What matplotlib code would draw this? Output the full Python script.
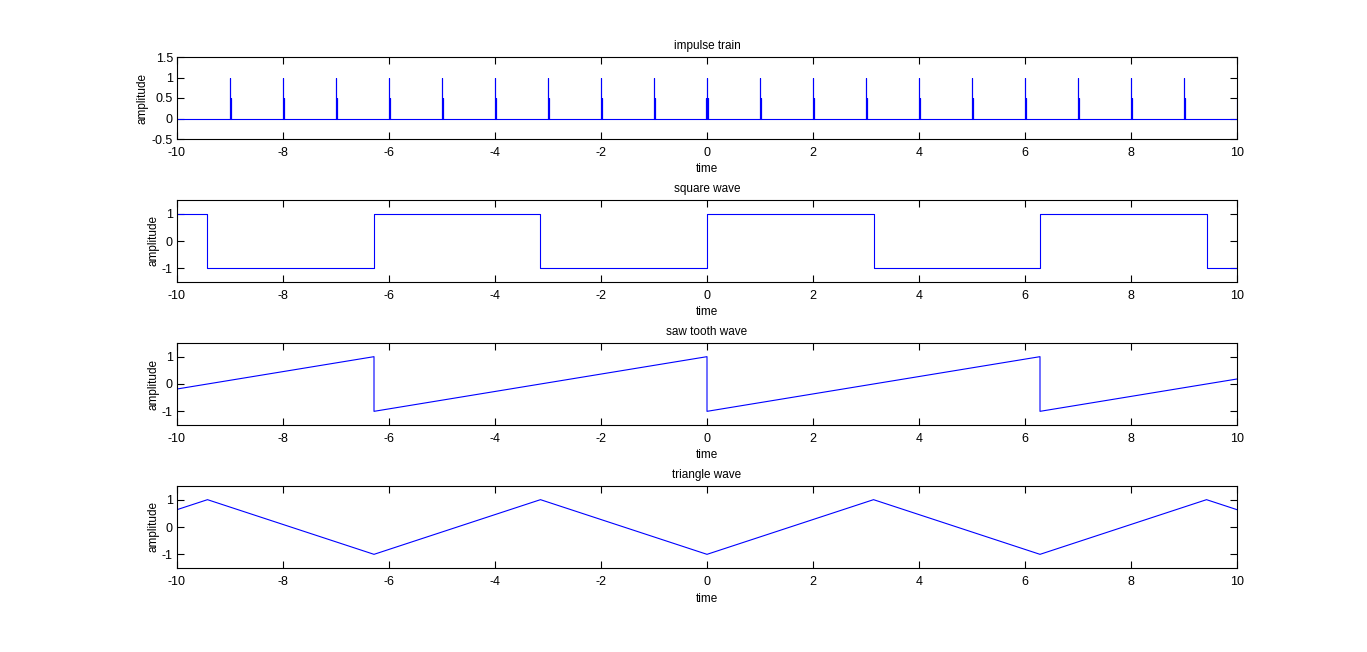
import matplotlib
matplotlib.use("Agg")
import matplotlib.pyplot as plt

plt.rcParams['font.family'] = ['Liberation Sans', 'DejaVu Sans']
plt.rcParams['font.size'] = 9

# ---- data ----
spike_times = [-9, -8, -7, -6, -5, -4, -3, -2, -1, 0, 1, 2, 3, 4, 5, 6, 7, 8, 9]
spike_peak = [1, 1, 1, 1, 1, 1, 1, 1, 1, 1, 1, 1, 1, 1, 1, 1, 1, 1, 1]
spike_side = [0.5, 0.5, 0.5, 0.5, 0.5, 0.5, 0.5, 0.5, 0.5, 0.5, 0.5, 0.5, 0.5, 0.5, 0.5, 0.5, 0.5, 0.5, 0.5]
end_time = 10
end_value = 0.5
start_time = -10

square_t = [-10, -9.425, -9.425, -6.283, -6.283, -3.142, -3.142, 0, 0, 3.142, 3.142, 6.283, 6.283, 9.425, 9.425, 10]
square_y = [1, 1, -1, -1, 1, 1, -1, -1, 1, 1, -1, -1, 1, 1, -1, -1]

saw_t = [-10, -6.283, -6.283, 0, 0, 6.283, 6.283, 10]
saw_y = [-0.183, 1, -1, 1, -1, 1, -1, 0.183]

tri_t = [-10, -9.425, -6.283, -3.142, 0, 3.142, 6.283, 9.425, 10]
tri_y = [0.634, 1, -1, 1, -1, 1, -1, 1, 0.634]

x_ticks = [-10, -8, -6, -4, -2, 0, 2, 4, 6, 8, 10]
imp_yticks = [-0.5, 0, 0.5, 1, 1.5]
wave_yticks = [-1, 0, 1]

# build impulse line (vertical strokes) from samples
dt = 0.018
imp_t = [start_time]
imp_y = [0]
for k, p, s in zip(spike_times, spike_peak, spike_side):
    if k == 0:
        imp_t += [k - dt, k - dt, k - dt, k, k, k, k + dt, k + dt, k + dt]
        imp_y += [0, s, 0, 0, p, 0, 0, s, 0]
    else:
        imp_t += [k, k, k, k + dt, k + dt, k + dt]
        imp_y += [0, p, 0, 0, s, 0]
imp_t += [end_time, end_time]
imp_y += [0, end_value]

W, H = 1367, 652
fig = plt.figure(figsize=(W / 100, H / 100), dpi=100)
fig.patch.set_facecolor('white')

left, right = 177, 1237
tops = [57, 200, 343, 486]
height = 82

titles = ['impulse train', 'square wave', 'saw tooth wave', 'triangle wave']
series = [(imp_t, imp_y), (square_t, square_y), (saw_t, saw_y), (tri_t, tri_y)]

for i in range(4):
    top = tops[i]
    ax = fig.add_axes([left / W, 1 - (top + height) / H, (right - left) / W, height / H])
    t, y = series[i]
    ax.plot(t, y, color='#0000ff', linewidth=0.8)
    ax.set_xlim(-10, 10)
    ax.set_xticks(x_ticks)
    ax.set_xticklabels([str(v) for v in x_ticks])
    if i == 0:
        ax.set_ylim(-0.5, 1.5)
        ax.set_yticks(imp_yticks)
        ax.set_yticklabels(['-0.5', '0', '0.5', '1', '1.5'])
    else:
        ax.set_ylim(-1.5, 1.5)
        ax.set_yticks(wave_yticks)
        ax.set_yticklabels(['-1', '0', '1'])
    ax.tick_params(axis='x', direction='in', top=True, length=5, width=0.8, pad=6, labelsize=9)
    ax.tick_params(axis='y', direction='in', right=True, length=5, width=0.8, pad=3, labelsize=9)
    for sp in ax.spines.values():
        sp.set_linewidth(0.8)
    ax.set_title(titles[i], fontsize=8.5, pad=6)
    ax.set_xlabel('time', fontsize=8.5, labelpad=3)
    ax.set_ylabel('amplitude', fontsize=8.5, labelpad=2)

fig.savefig('out.png', dpi=100)
